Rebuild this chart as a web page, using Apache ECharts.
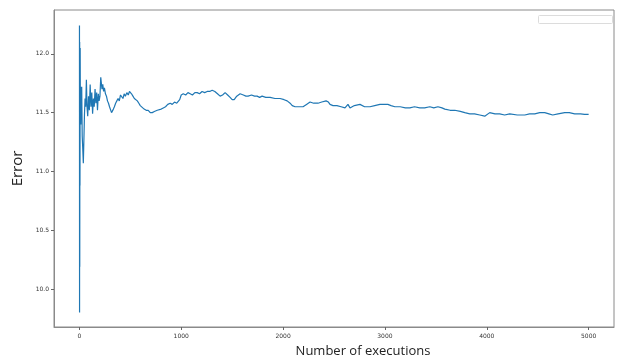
<!DOCTYPE html>
<html>
<head>
<meta charset="utf-8">
<script src="https://cdn.jsdelivr.net/npm/echarts@6/dist/echarts.min.js"></script>
<style>html,body{margin:0;padding:0;background:#fff}#c{width:620px;height:360px}</style>
</head>
<body>
<div id="c"></div>
<script>
const execN = [1,2,3,4,5,6,8,10,12,14,17,20,23,28,34,39,44,50,56,62,69,75,82,90,98,106,114,122,130,138,146,154,162,170,178,186,194,202,210,216,222,230,238,246,256,266,276,286,296,306,316,324,334,344,356,368,380,392,404,416,428,440,452,466,480,492,500,512,526,540,556,569,584,598,616,636,656,676,696,716,736,752,765,784,804,824,846,868,892,912,934,956,971,985,1000,1020,1044,1066,1088,1110,1134,1157,1180,1205,1230,1255,1280,1304,1330,1356,1382,1406,1431,1456,1480,1500,1520,1545,1578,1610,1635,1657,1690,1720,1745,1770,1794,1830,1873,1920,1971,2010,2040,2069,2090,2118,2160,2196,2230,2265,2300,2343,2380,2422,2445,2461,2490,2529,2570,2608,2637,2657,2700,2755,2800,2853,2900,2951,2990,3029,3060,3098,3150,3200,3245,3290,3343,3390,3441,3480,3520,3560,3588,3640,3686,3740,3784,3833,3880,3931,3980,4029,4080,4127,4175,4225,4300,4373,4420,4471,4520,4569,4610,4647,4700,4765,4810,4863,4920,4960,5000];
const errorVals = [12.24,9.80,12.10,10.19,12.05,10.88,12.05,11.45,11.72,11.40,11.70,11.45,11.72,11.30,11.18,11.07,11.25,11.48,11.62,11.55,11.78,11.55,11.47,11.64,11.52,11.74,11.55,11.67,11.49,11.62,11.55,11.70,11.58,11.67,11.52,11.66,11.60,11.64,11.80,11.81,11.70,11.74,11.68,11.71,11.66,11.64,11.60,11.58,11.55,11.56,11.50,11.50,11.53,11.55,11.58,11.60,11.62,11.60,11.65,11.66,11.62,11.66,11.64,11.67,11.65,11.68,11.69,11.66,11.64,11.62,11.61,11.60,11.58,11.56,11.55,11.53,11.52,11.52,11.50,11.50,11.51,11.50,11.52,11.51,11.53,11.54,11.55,11.57,11.58,11.57,11.59,11.58,11.58,11.61,11.65,11.66,11.65,11.67,11.66,11.65,11.67,11.67,11.66,11.68,11.67,11.68,11.68,11.69,11.68,11.66,11.64,11.65,11.67,11.65,11.63,11.61,11.61,11.64,11.66,11.65,11.64,11.64,11.65,11.64,11.64,11.63,11.64,11.63,11.63,11.62,11.62,11.61,11.60,11.58,11.56,11.55,11.55,11.55,11.57,11.59,11.58,11.58,11.59,11.60,11.59,11.57,11.56,11.56,11.55,11.54,11.57,11.54,11.56,11.57,11.55,11.55,11.56,11.57,11.57,11.57,11.56,11.55,11.55,11.54,11.54,11.55,11.54,11.54,11.55,11.54,11.55,11.54,11.53,11.52,11.52,11.51,11.50,11.49,11.49,11.48,11.47,11.50,11.49,11.49,11.48,11.49,11.48,11.48,11.49,11.49,11.50,11.50,11.49,11.48,11.49,11.50,11.50,11.49,11.49,11.485,11.485];
const xTicks = [0,1000,2000,3000,4000,5000];
const yTicks = [10.0,10.5,11.0,11.5,12.0];

const chart = echarts.init(document.getElementById('c'), null, {renderer:'canvas'});
const data = execN.map((n,i)=>[n, errorVals[i]]);
chart.setOption({
  animation:false,
  backgroundColor:'#fff',
  grid:{left:54,right:6,top:10,bottom:33,outerBoundsMode:'none',containLabel:false,show:true,borderColor:'#8a8a8a',borderWidth:1,backgroundColor:'transparent'},
  xAxis:{
    type:'value',min:-249,max:5249,
    name:'Number of executions',nameLocation:'middle',nameGap:18,
    nameTextStyle:{fontFamily:'Open Sans',fontSize:13,color:'#222',padding:[0,0,0,58]},
    splitLine:{show:false},
    axisLine:{show:true,onZero:false,lineStyle:{color:'#8a8a8a',width:1}},
    axisTick:{show:true,length:3,lineStyle:{color:'#666'},customValues:xTicks},
    axisLabel:{fontFamily:'DejaVu Sans',fontSize:6,color:'#333',margin:6,customValues:xTicks,formatter:v=>String(v)}
  },
  yAxis:{
    type:'value',min:9.6775,max:12.3725,
    name:'Error',nameLocation:'middle',nameGap:24,nameRotate:90,
    nameTextStyle:{fontFamily:'Open Sans',fontSize:15,color:'#222'},
    splitLine:{show:false},
    axisLine:{show:true,onZero:false,lineStyle:{color:'#8a8a8a',width:1}},
    axisTick:{show:true,length:3,lineStyle:{color:'#666'},customValues:yTicks},
    axisLabel:{fontFamily:'DejaVu Sans',fontSize:6,color:'#333',margin:5,customValues:yTicks,formatter:v=>v.toFixed(1)}
  },
  graphic:[{type:'rect',left:538,top:15,shape:{width:74,height:8,r:1},style:{fill:'#fff',stroke:'#dcdcdc',lineWidth:1}}],
  series:[{type:'line',data:data,showSymbol:false,symbol:'none',lineStyle:{color:'#1f77b4',width:1.2},clip:true}]
});
</script>
</body>
</html>
